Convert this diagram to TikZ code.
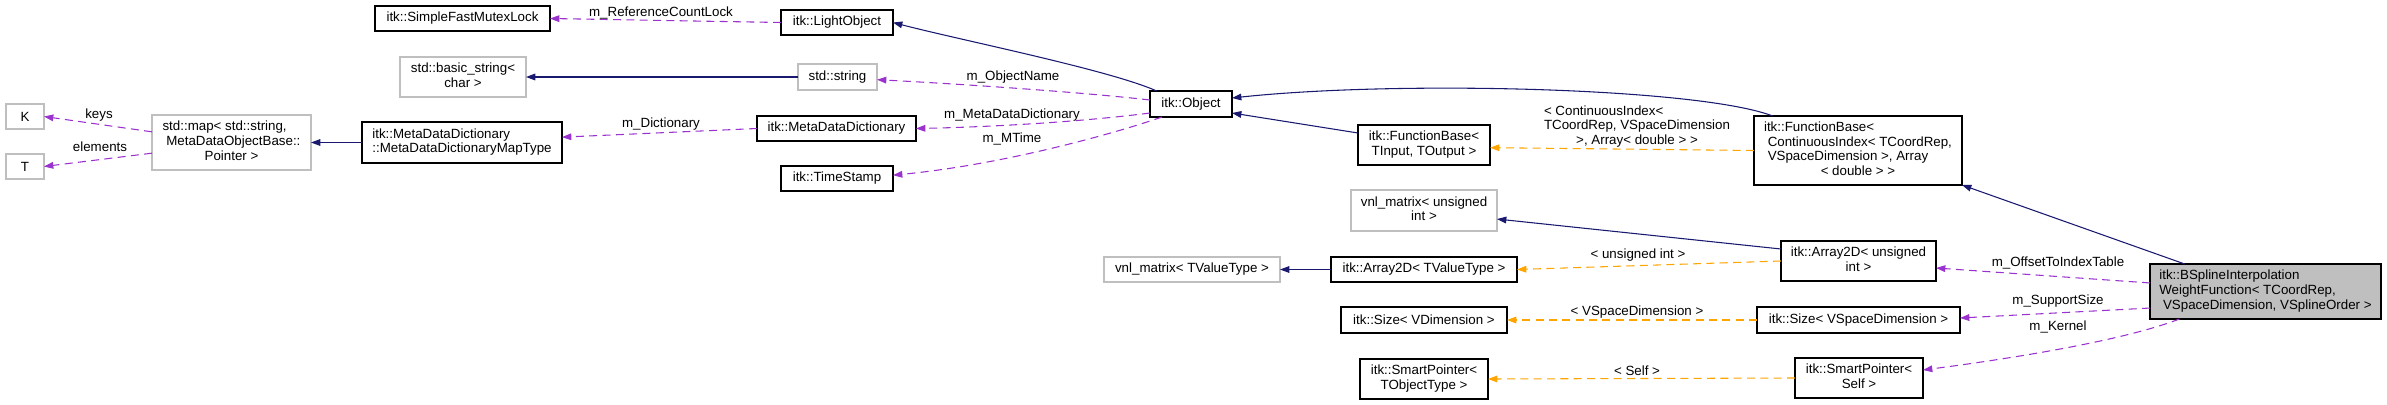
\documentclass[tikz,border=0pt]{standalone}
\usepackage{fontspec}
\setmainfont{Liberation Sans}
\usepackage{tikz}
\usetikzlibrary{arrows.meta}
\definecolor{edgeblue}{HTML}{191970}
\definecolor{edgepurple}{HTML}{9A32CD}
\definecolor{edgeorange}{HTML}{FFA500}
\definecolor{undocgray}{HTML}{BFBFBF}

\begin{document}
\begin{tikzpicture}[
  x=0.75pt, y=-0.75pt,
  font=\fontsize{10}{11}\selectfont,
  cls/.style={draw=black, line width=0.8pt, inner sep=0pt, outer sep=0pt, align=center},
  ext/.style={cls, draw=undocgray},
  lbl/.style={inner sep=0pt, align=center},
  inherit/.style={draw=edgeblue, line width=0.8pt, -{Triangle[length=7pt,width=5pt]}},
  member/.style={draw=edgepurple, line width=0.8pt, dash pattern=on 6pt off 4pt, -{Triangle[length=7pt,width=5pt]}},
  tmpl/.style={draw=edgeorange, line width=0.8pt, dash pattern=on 6pt off 4pt, -{Triangle[length=7pt,width=5pt]}}
]
\useasboundingbox (0,0) rectangle (2387,404);

\node[cls, minimum width=131.25pt, minimum height=18.75pt] (sfml) at (462.5,18.5) {itk::SimpleFastMutexLock};
\node[cls, minimum width=84pt, minimum height=18.75pt] (lightobj) at (837,22.5) {itk::LightObject};
\node[ext, minimum width=94.5pt, minimum height=30pt] (basicstr) at (463,77) {\begin{tabular}{@{}l@{}} std::basic\_string< \\ \multicolumn{1}{@{}c@{}}{char >} \end{tabular}};
\node[ext, minimum width=59.25pt, minimum height=19.5pt] (stdstr) at (837.5,77) {std::string};
\node[ext, minimum width=28.5pt, minimum height=18.75pt] (K) at (25,116.5) {K};
\node[ext, minimum width=28.5pt, minimum height=18.75pt] (T) at (25,166.5) {T};
\node[ext, minimum width=119.25pt, minimum height=41.25pt] (stdmap) at (231.5,142.5) {\begin{tabular}{@{}l@{}} std::map< std::string, \\ \ MetaDataObjectBase:: \\ \multicolumn{1}{@{}c@{}}{Pointer >} \end{tabular}};
\node[cls, minimum width=150pt, minimum height=30.75pt] (maptype) at (462,142.5) {\begin{tabular}{@{}l@{}} itk::MetaDataDictionary \\ \multicolumn{1}{@{}c@{}}{::MetaDataDictionaryMapType} \end{tabular}};
\node[cls, minimum width=119.25pt, minimum height=18.75pt] (mdd) at (836.5,128.5) {itk::MetaDataDictionary};
\node[cls, minimum width=84pt, minimum height=18.75pt] (timestamp) at (837,178.5) {itk::TimeStamp};
\node[cls, minimum width=61.5pt, minimum height=19.5pt] (object) at (1191,104) {itk::Object};
\node[cls, minimum width=99pt, minimum height=30pt] (fbio) at (1424,145) {\begin{tabular}{@{}l@{}} itk::FunctionBase< \\ \multicolumn{1}{@{}c@{}}{TInput, TOutput >} \end{tabular}};
\node[cls, minimum width=156pt, minimum height=51.75pt] (fbci) at (1858,150.5) {\begin{tabular}{@{}l@{}} itk::FunctionBase< \\ \ ContinuousIndex< TCoordRep, \\ \ VSpaceDimension >, Array \\ \multicolumn{1}{@{}c@{}}{< double > >} \end{tabular}};
\node[ext, minimum width=109.5pt, minimum height=30.75pt] (vnluint) at (1424,210.5) {\begin{tabular}{@{}l@{}} vnl\_matrix< unsigned \\ \multicolumn{1}{@{}c@{}}{int >} \end{tabular}};
\node[ext, minimum width=132pt, minimum height=18.75pt] (vnltv) at (1192,269.5) {vnl\_matrix< TValueType >};
\node[cls, minimum width=139.5pt, minimum height=18.75pt] (arrtv) at (1424,269.5) {itk::Array2D< TValueType >};
\node[cls, minimum width=116.25pt, minimum height=30pt] (arruint) at (1858.5,261) {\begin{tabular}{@{}l@{}} itk::Array2D< unsigned \\ \multicolumn{1}{@{}c@{}}{int >} \end{tabular}};
\node[cls, minimum width=124.5pt, minimum height=19.5pt] (sizevd) at (1424,320) {itk::Size< VDimension >};
\node[cls, minimum width=152.25pt, minimum height=19.5pt] (sizevsd) at (1858.5,320) {itk::Size< VSpaceDimension >};
\node[cls, minimum width=96pt, minimum height=30pt] (sptot) at (1424,379) {\begin{tabular}{@{}l@{}} itk::SmartPointer< \\ \multicolumn{1}{@{}c@{}}{TObjectType >} \end{tabular}};
\node[cls, minimum width=96pt, minimum height=30pt] (spself) at (1859,378) {\begin{tabular}{@{}l@{}} itk::SmartPointer< \\ \multicolumn{1}{@{}c@{}}{Self >} \end{tabular}};
\node[cls, fill=undocgray, minimum width=173.25pt, minimum height=41.25pt] (bspline) at (2265.5,291.5) {\begin{tabular}{@{}l@{}} itk::BSplineInterpolation \\ WeightFunction< TCoordRep, \\ \multicolumn{1}{@{}c@{}}{\ VSpaceDimension, VSplineOrder >} \end{tabular}};

\draw[member] (lightobj.west) -- (sfml.east);
\draw[inherit] ([xshift=5pt]object.north west) .. controls (1110,70) and (960,40) .. (lightobj.east);
\draw[inherit] (stdstr.west) -- (basicstr.east);
\draw[member] ([yshift=3pt]object.west) .. controls (1080,92) and (960,84) .. ([yshift=-2pt]stdstr.east);
\draw[member] ([yshift=-6.75pt]object.west) .. controls (1080,122) and (990,127) .. (mdd.east);
\draw[member] ([xshift=9pt]object.south west) .. controls (1110,135) and (1000,165) .. ([yshift=2.5pt]timestamp.east);
\draw[member] (mdd.west) -- ([yshift=4pt]maptype.east);
\draw[inherit] (maptype.west) -- (stdmap.east);
\draw[member] ([yshift=8pt]stdmap.west) -- (K.east);
\draw[member] ([yshift=-8pt]stdmap.west) -- (T.east);
\draw[inherit] ([xshift=14pt]fbci.north west) .. controls (1700,88) and (1400,80) .. ([yshift=4.5pt]object.east);
\draw[inherit] ([yshift=9pt]fbio.west) -- ([yshift=-6.75pt]object.east);
\draw[tmpl] (fbci.west) -- ([yshift=-2pt]fbio.east);
\draw[inherit] ([yshift=9pt]arruint.west) -- ([yshift=-6.4pt]vnluint.east);
\draw[tmpl] (arruint.west) -- (arrtv.east);
\draw[inherit] (arrtv.west) -- (vnltv.east);
\draw[tmpl] (sizevsd.west) -- (sizevd.east);
\draw[tmpl] (spself.west) -- (sptot.east);
\draw[inherit] ([xshift=26pt]bspline.north west) -- (fbci.south east);
\draw[member] ([yshift=6.4pt]bspline.west) -- ([yshift=-5.25pt]arruint.east);
\draw[member] ([yshift=-12.4pt]bspline.west) -- ([yshift=1.5pt]sizevsd.east);
\draw[member] ([xshift=22pt]bspline.south west) .. controls (2120,342) and (2000,360) .. ([yshift=6pt]spself.east);

\node[lbl] (lrefcount) at (661,13) {m\_ReferenceCountLock};
\node[lbl] (ldict) at (661,124) {m\_Dictionary};
\node[lbl] (lkeys) at (99,115) {keys};
\node[lbl] (lelems) at (100,147) {elements};
\node[lbl] (lobjname) at (1013,77) {m\_ObjectName};
\node[lbl] (lmdd) at (1012,115) {m\_MetaDataDictionary};
\node[lbl] (lmtime) at (1012,139) {m\_MTime};
\node[lbl] (lcontidx) at (1637,127) {\begin{tabular}{@{}l@{}} < ContinuousIndex< \\ TCoordRep, VSpaceDimension \\ \multicolumn{1}{@{}c@{}}{>, Array< double > >} \end{tabular}};
\node[lbl] (luint) at (1638,255) {< unsigned int >};
\node[lbl] (lvsd) at (1637,312) {< VSpaceDimension >};
\node[lbl] (lself) at (1637,371) {< Self >};
\node[lbl] (loffset) at (2058,263) {m\_OffsetToIndexTable};
\node[lbl] (lsupport) at (2058,301) {m\_SupportSize};
\node[lbl] (lkernel) at (2058,327) {m\_Kernel};
\end{tikzpicture}
\end{document}
